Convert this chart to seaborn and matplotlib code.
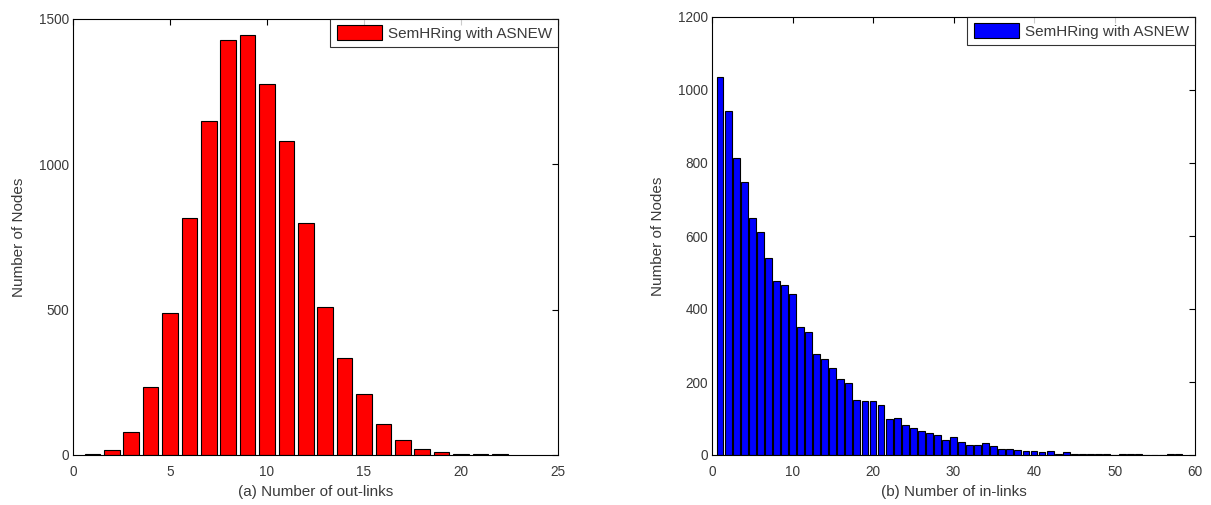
import matplotlib
matplotlib.use("Agg")
import matplotlib.pyplot as plt
import seaborn as sns
import pandas as pd

# ---- data ----
out_links = list(range(1, 23))
out_counts = [5, 18, 80, 233, 487, 817, 1149, 1429, 1444, 1276, 1079,
              799, 509, 334, 211, 105, 53, 22, 9, 5, 3, 3]

in_links = list(range(1, 59))
in_counts = [1035, 943, 813, 747, 650, 610, 541, 477, 467, 442, 350, 337,
             277, 263, 239, 208, 197, 151, 147, 147, 137, 99, 102, 81, 74,
             67, 60, 56, 42, 49, 35, 28, 28, 32, 25, 17, 17, 14, 10, 10,
             7, 10, 4, 7, 2, 3, 3, 3, 3, 0, 2, 2, 2, 0, 0, 0, 3, 3]

series_label = "SemHRing with ASNEW"
xlabel_a = "(a) Number of out-links"
xlabel_b = "(b) Number of in-links"
ylabel = "Number of Nodes"

left_xticks = [0, 5, 10, 15, 20, 25]
left_yticks = [0, 500, 1000, 1500]
right_xticks = [0, 10, 20, 30, 40, 50, 60]
right_yticks = [0, 200, 400, 600, 800, 1000, 1200]

# ---- style ----
sns.set_style("white")
plt.rcParams["font.family"] = ["Liberation Sans", "DejaVu Sans"]
tick_fs = 9.8
lab_fs = 11
text_col = "#3a3a3a"

W, H = 1211, 505
fig = plt.figure(figsize=(W / 100, H / 100), dpi=100)
ax1 = fig.add_axes([73 / W, (H - 455) / H, 485 / W, 436 / H])
ax2 = fig.add_axes([712 / W, (H - 455) / H, 483 / W, 438 / H])

df_a = pd.DataFrame({"x": out_links, "y": out_counts})
df_b = pd.DataFrame({"x": in_links, "y": in_counts})

sns.barplot(data=df_a, x="x", y="y", native_scale=True, color="#ff0000",
            saturation=1, edgecolor="black", linewidth=0.8, width=0.8,
            label=series_label, ax=ax1)
sns.barplot(data=df_b, x="x", y="y", native_scale=True, color="#0000ff",
            saturation=1, edgecolor="black", linewidth=0.8, width=0.85,
            label=series_label, ax=ax2)

for ax, xt, yt, xl, xlab in [(ax1, left_xticks, left_yticks, (0, 25), xlabel_a),
                             (ax2, right_xticks, right_yticks, (0, 60), xlabel_b)]:
    ax.set_xlim(*xl)
    ax.set_ylim(yt[0], yt[-1])
    ax.set_xticks(xt)
    ax.set_yticks(yt)
    ax.set_xticklabels([str(v) for v in xt])
    ax.set_yticklabels([str(v) for v in yt])
    ax.tick_params(direction="in", top=True, right=True, length=4, width=0.8,
                   colors="black", labelcolor=text_col, labelsize=tick_fs)
    ax.tick_params(axis="x", pad=7)
    ax.tick_params(axis="y", pad=3)
    for s in ax.spines.values():
        s.set_visible(True)
        s.set_color("black")
        s.set_linewidth(0.8)
    ax.set_xlabel(xlab, color=text_col, fontsize=lab_fs)
    ax.set_ylabel(ylabel, color=text_col, fontsize=lab_fs)
    ax.xaxis.set_label_coords(0.5, -30 / 436, transform=ax.transAxes)
    ax.yaxis.set_label_coords(-47 / 485, 0.5, transform=ax.transAxes)
    ax.grid(False)
    leg = ax.legend(loc="upper right", fancybox=False, frameon=True,
                    borderaxespad=0, handlelength=3.0, handleheight=1.15,
                    handletextpad=0.35, borderpad=0.4, fontsize=lab_fs,
                    labelcolor=text_col)
    leg.get_frame().set_edgecolor("black")
    leg.get_frame().set_linewidth(0.8)

fig.savefig("out.png", dpi=100, facecolor="white")
